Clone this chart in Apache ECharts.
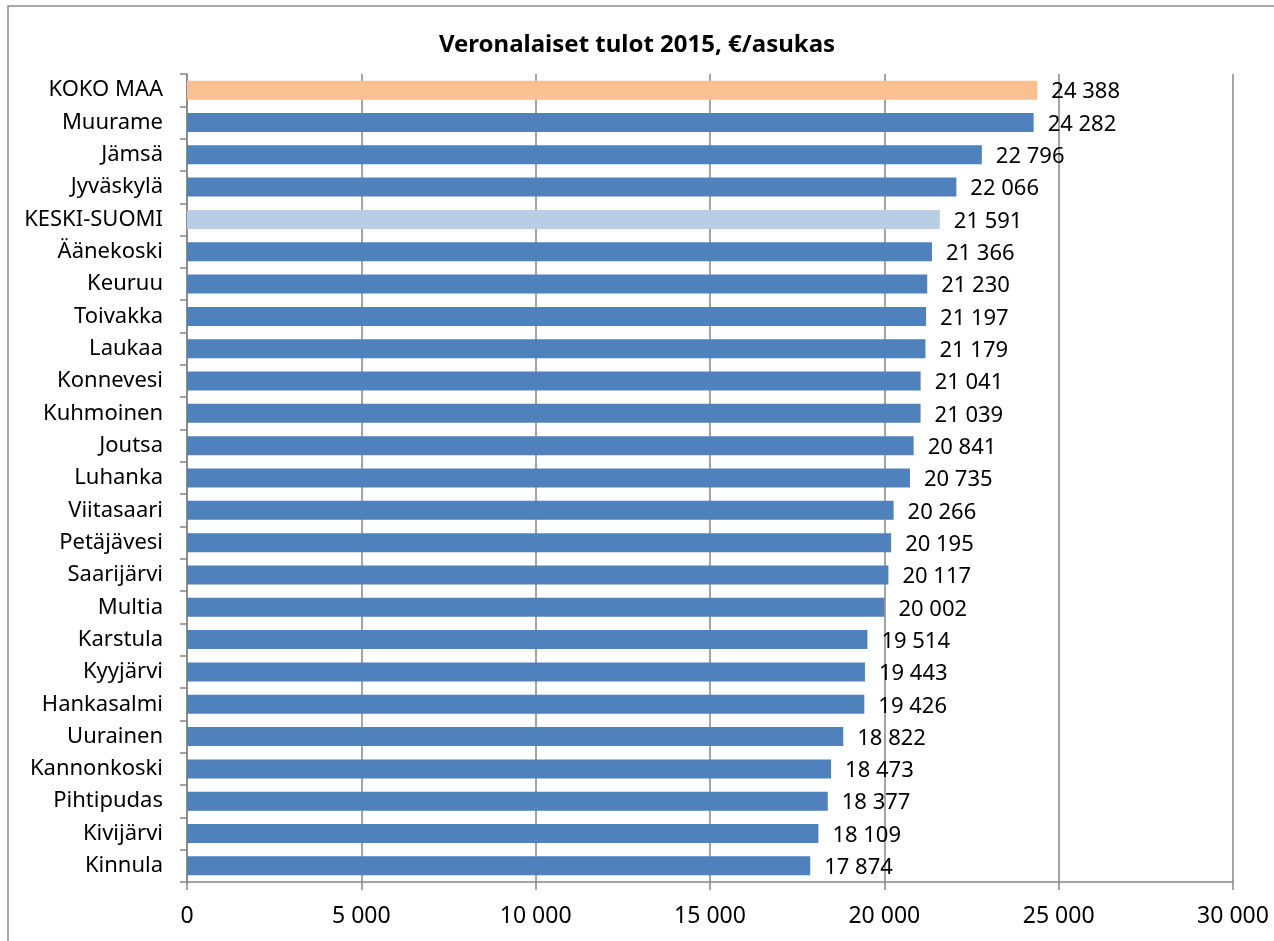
<!DOCTYPE html>
<html style="height: 100%">
<head>
    <meta charset="utf-8">
</head>
<body style="height: 100%; margin: 0; background: #fff">
    <div id="container" style="width: 1274px; height: 941px"></div>
    <script type="text/javascript" src="https://cdn.jsdelivr.net/npm/echarts@6/dist/echarts.min.js"></script>
    <script type="text/javascript">
        var kunnat = ['KOKO MAA', 'Muurame', 'Jämsä', 'Jyväskylä', 'KESKI-SUOMI', 'Äänekoski', 'Keuruu',
            'Toivakka', 'Laukaa', 'Konnevesi', 'Kuhmoinen', 'Joutsa', 'Luhanka', 'Viitasaari',
            'Petäjävesi', 'Saarijärvi', 'Multia', 'Karstula', 'Kyyjärvi', 'Hankasalmi', 'Uurainen',
            'Kannonkoski', 'Pihtipudas', 'Kivijärvi', 'Kinnula'];
        var tulot = [24388, 24282, 22796, 22066, 21591, 21366, 21230, 21197, 21179, 21041, 21039,
            20841, 20735, 20266, 20195, 20117, 20002, 19514, 19443, 19426, 18822, 18473, 18377,
            18109, 17874];
        // vertailurivit eri värillä
        var erikoisvarit = {
            'KOKO MAA': '#FAC090',
            'KESKI-SUOMI': '#B9CDE5'
        };

        var fmt = function (v) {
            return String(v).replace(/\B(?=(\d{3})+(?!\d))/g, ' ');
        };

        var data = [];
        for (var i = 0; i < kunnat.length; i++) {
            data.push({
                value: tulot[i],
                itemStyle: { color: erikoisvarit[kunnat[i]] || '#4F81BD' }
            });
        }

        var font = '"Noto Sans", sans-serif';
        var myChart = echarts.init(document.getElementById('container'));
        var option = {
            animation: false,
            backgroundColor: '#fff',
            textStyle: { fontFamily: font },
            graphic: [{
                type: 'rect',
                shape: { x: 8, y: 6, width: 1400, height: 1100 },
                style: { fill: null, stroke: '#8c8c8c', lineWidth: 1.5 },
                silent: true
            }],
            title: {
                text: 'Veronalaiset tulot 2015, €/asukas',
                left: 'center',
                top: 28,
                textStyle: { fontSize: 24, fontWeight: 'bold', color: '#000', fontFamily: font }
            },
            grid: { left: 187, right: 41, top: 74, bottom: 59, containLabel: false },
            xAxis: {
                type: 'value',
                min: 0,
                max: 30000,
                interval: 5000,
                axisLine: { show: true, lineStyle: { color: '#868686', width: 1.5 } },
                axisTick: { show: true, length: 8, lineStyle: { color: '#868686', width: 1.5 } },
                splitLine: { show: true, lineStyle: { color: '#868686', width: 1.5 } },
                axisLabel: { margin: 23, fontSize: 23, color: '#000', formatter: fmt }
            },
            yAxis: {
                type: 'category',
                inverse: true,
                data: kunnat,
                axisLine: { show: true, lineStyle: { color: '#868686', width: 1.5 } },
                axisTick: { show: true, length: 7, lineStyle: { color: '#868686', width: 1.5 } },
                axisLabel: { margin: 24, fontSize: 22, color: '#000' }
            },
            series: [{
                type: 'bar',
                barWidth: 19,
                data: data,
                label: {
                    show: true,
                    position: 'right',
                    distance: 14,
                    fontSize: 22,
                    color: '#000',
                    offset: [0, 2],
                    formatter: function (p) { return fmt(p.value); }
                }
            }]
        };
        myChart.setOption(option);
    </script>
</body>
</html>
